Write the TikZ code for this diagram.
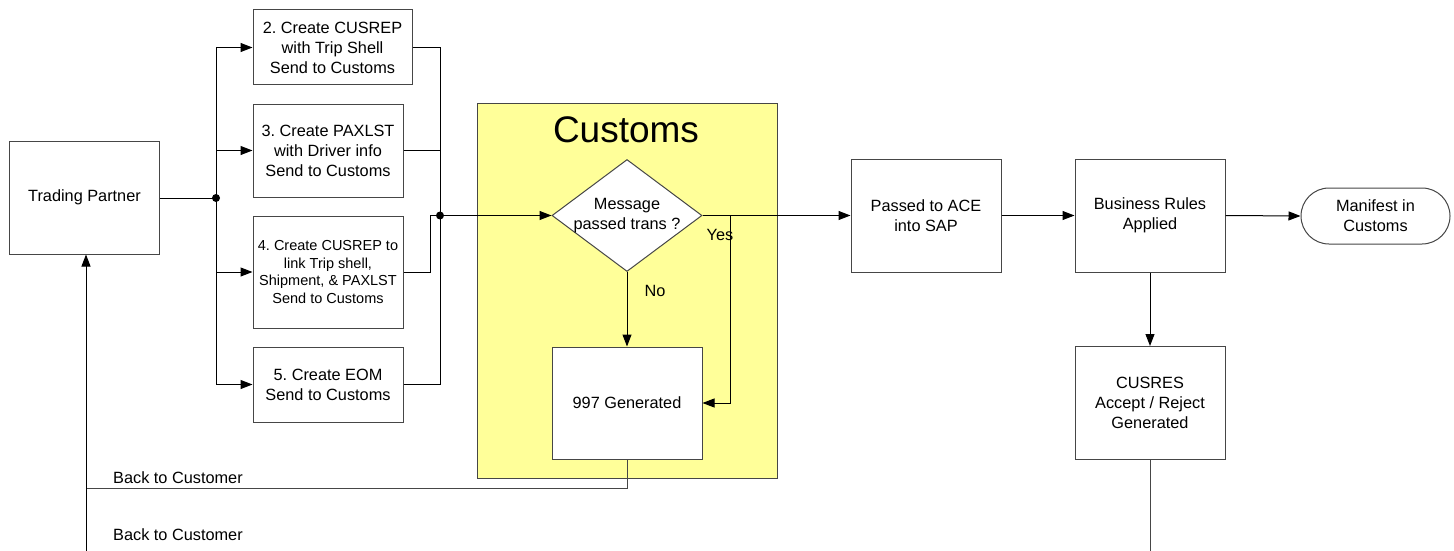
\documentclass[tikz,border=0pt]{standalone}
\usepackage{fontspec}
\setmainfont{Liberation Sans}
\usetikzlibrary{arrows.meta,shapes.geometric,shapes.misc}
\definecolor{custyellow}{RGB}{255,255,153}
\definecolor{boxline}{RGB}{70,70,70}
\frenchspacing
\tikzset{
  box/.style={draw=boxline, line width=1pt, fill=white, inner sep=0pt, align=center,
    font=\fontsize{16.3}{20}\selectfont},
  smallbox/.style={box, font=\fontsize{14.5}{17.5}\selectfont},
  conn/.style={draw=black, line width=1pt},
  arr/.style={conn, -{Triangle[length=12pt,width=9pt]}},
  lbl/.style={inner sep=0pt, font=\fontsize{16.3}{20}\selectfont},
  dot/.style={circle, fill=black, inner sep=0pt, minimum size=8pt}
}
\begin{document}
\begin{tikzpicture}[x=1pt,y=-1pt]
\useasboundingbox (0,0) rectangle (1454,551);
% customs panel
\node[draw=boxline, line width=1pt, fill=custyellow, minimum width=300pt, minimum height=375pt, inner sep=0pt] (panel) at (627,290.5) {};
\node[lbl, font=\fontsize{37}{40}\selectfont] (custitle) at (626,130) {Customs};

% nodes
\node[box, minimum width=150pt, minimum height=113pt] (tp) at (84.5,197.5) {Trading Partner};
\node[box, minimum width=159pt, minimum height=75pt] (b2) at (332.5,47.5) {2. Create CUSREP\\with Trip Shell\\Send to Customs};
\node[box, minimum width=150pt, minimum height=93pt] (b3) at (328,150.5) {3. Create PAXLST\\with Driver info\\Send to Customs};
\node[smallbox, minimum width=150pt, minimum height=112pt] (b4) at (328,272) {4. Create CUSREP to\\link Trip shell,\\Shipment, \& PAXLST\\Send to Customs};
\node[box, minimum width=150pt, minimum height=75pt] (b5) at (328,384.5) {5. Create EOM\\Send to Customs};

\node[diamond, draw=boxline, line width=1pt, fill=white, minimum width=150pt, minimum height=112pt, inner sep=0pt] (dia) at (627,215.5) {};
\node[lbl, align=center] (diat) at (dia.center) {Message\\passed trans ?};
\node[box, minimum width=150pt, minimum height=112pt] (g997) at (627,403) {997 Generated};

\node[box, minimum width=150pt, minimum height=113pt] (ace) at (926,215.5) {Passed to ACE\\into SAP};
\node[box, minimum width=150pt, minimum height=113pt] (bra) at (1150,215.5) {Business Rules\\Applied};
\node[box, rounded rectangle, minimum width=149pt, minimum height=56pt] (man) at (1375.5,216) {Manifest in\\Customs};
\node[box, minimum width=150pt, minimum height=113pt] (cusres) at (1150,403) {CUSRES\\Accept / Reject\\Generated};

% coordinates
\coordinate (busL) at (216,198);
\coordinate (busR) at (440,215.5);
\coordinate (j4) at (430,215.5);
\coordinate (yesT) at (730,215.5);
\coordinate (back1) at (86,488);
\coordinate (bot1) at (86,551);
\coordinate (bot2) at (1150,551);

% connectors left
\draw[conn] (tp.east |- busL) -- (busL);
\draw[arr] (busL) |- (b2.west);
\draw[arr] (busL) |- (b3.west);
\draw[arr] (busL) |- (b4.west);
\draw[arr] (busL) |- (b5.west);
\draw[conn] (b2.east) -| (busR);
\draw[conn] (b3.east) -| (busR);
\draw[conn] (b5.east) -| (busR);
\draw[conn] (b4.east) -| (j4) -- (busR);
\draw[arr] (busR) -- (dia.west);
\node[dot] (dotL) at (busL) {};
\node[dot] (dotR) at (busR) {};

% customs area
\draw[arr] (dia.east) -- (ace.west);
\draw[arr] (yesT) |- (g997.east);
\draw[arr] (dia.south) -- (g997.north);
\node[lbl] (yes) at (720,235) {Yes};
\node[lbl] (no) at (655,291) {No};

% back to customer
\draw[conn, draw=boxline] (g997.south) |- (back1);
\draw[arr] (bot1) -- (bot1 |- tp.south);
\node[lbl, anchor=west] (btc1) at (113,478) {Back to Customer};
\node[lbl, anchor=west] (btc2) at (113,535) {Back to Customer};

% right side
\draw[arr] (ace.east) -- (bra.west);
\draw[arr] (bra.east) -- (man.west);
\draw[arr] (bra.south) -- (cusres.north);
\draw[conn, draw=boxline] (cusres.south) -- (bot2);
\end{tikzpicture}
\end{document}
